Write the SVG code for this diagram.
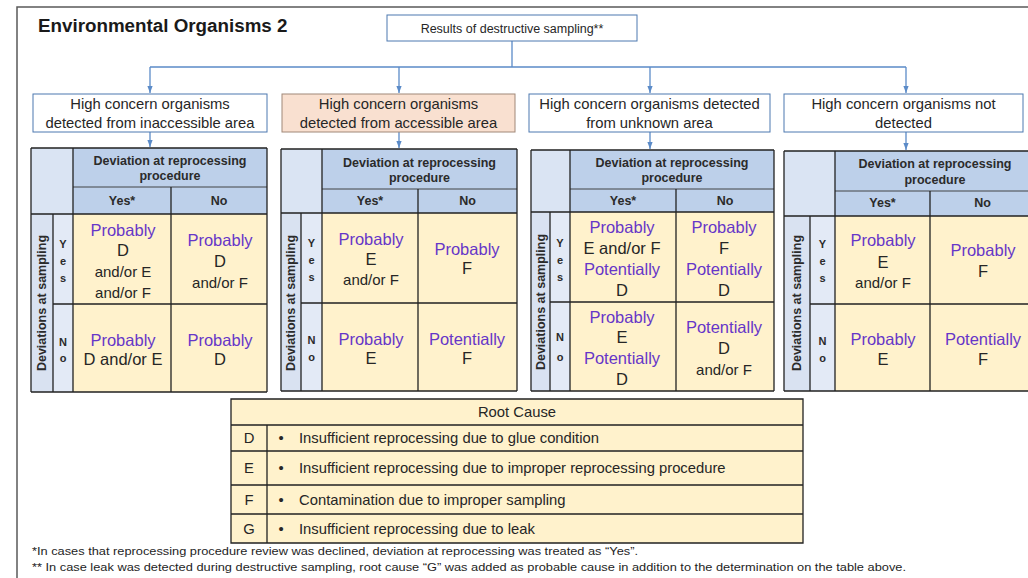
<svg xmlns="http://www.w3.org/2000/svg" width="1028" height="578" viewBox="0 0 1028 578">
<defs>
<marker id="ah" viewBox="0 0 8 6" refX="8" refY="3" markerWidth="7" markerHeight="6" orient="auto" markerUnits="userSpaceOnUse"><path d="M0,0 L8,3 L0,6 z" fill="#5B8BC8"/></marker>
<style>
text{font-family:"Liberation Sans",Arial,sans-serif;text-anchor:middle;dominant-baseline:central;fill:#262626}
.box{fill:#fff;stroke:#4C79B0;stroke-width:1}
.peach{fill:#F9E0D0;stroke:#A08878;stroke-width:1}
.hdr{fill:#BDD0EA}
.corner{fill:#DAE4F3}
.side{fill:#D9E2F1}
.yn{fill:#E3EAF6}
.cell{fill:#FFF2CC}
.ln{stroke:#222;stroke-width:1.3;fill:none}
.thin{stroke:#333;stroke-width:0.9;fill:none}
.p{fill:#6636C8;font-size:16.5px}
.k{font-size:16.5px}
.s{font-size:15px}
.hb{font-weight:bold;font-size:12.5px;fill:#2b2b2b}
.yb{font-weight:bold;font-size:11px;fill:#2b2b2b}
.l2{font-size:14.8px}
.rc{font-size:14.8px}
.rl{font-size:14.8px;text-anchor:start}
.fn{font-size:11.5px;text-anchor:start;fill:#1e1e1e}
.conn{stroke:#5B8BC8;stroke-width:1.3;fill:none}
</style>
</defs>
<rect x="0" y="0" width="1028" height="578" fill="#fff"/>
<path d="M17,578V7H1028" fill="none" stroke="#5a5a5a" stroke-width="1.5"/>
<text x="38" y="25" style="text-anchor:start;font-weight:bold;font-size:18.8px;fill:#1a1a1a">Environmental Organisms 2</text>

<g id="connectors">
<path class="conn" d="M512,41V67 M150,67H906"/>
<path class="conn" d="M150,67V93" marker-end="url(#ah)"/>
<path class="conn" d="M399,67V93" marker-end="url(#ah)"/>
<path class="conn" d="M650,67V93" marker-end="url(#ah)"/>
<path class="conn" d="M906,67V93" marker-end="url(#ah)"/>
<path class="conn" d="M150,132V147" marker-end="url(#ah)"/>
<path class="conn" d="M399,132V148" marker-end="url(#ah)"/>
<path class="conn" d="M650,132V149" marker-end="url(#ah)"/>
<path class="conn" d="M906,132V150" marker-end="url(#ah)"/>
</g>

<g id="root">
<rect class="box" x="387" y="15" width="250" height="26"/>
<text x="512" y="28.5" style="font-size:12.5px">Results of destructive sampling**</text>
</g>

<g id="box1">
<rect class="box" x="33" y="94" width="234" height="38"/>
<text class="l2" x="150" y="104">High concern organisms</text>
<text class="l2" x="150" y="123">detected from inaccessible area</text>
</g>
<g id="box2">
<rect class="peach" x="282" y="94" width="233" height="38"/>
<text class="l2" x="398.5" y="104">High concern organisms</text>
<text class="l2" x="398.5" y="123">detected from accessible area</text>
</g>
<g id="box3">
<rect class="box" x="529" y="94" width="241" height="38"/>
<text class="l2" x="649.5" y="104">High concern organisms detected</text>
<text class="l2" x="649.5" y="123">from unknown area</text>
</g>
<g id="box4">
<rect class="box" x="784" y="94" width="239" height="38"/>
<text class="l2" x="903.5" y="104">High concern organisms not</text>
<text class="l2" x="903.5" y="123">detected</text>
</g>

<g id="table1">
<rect class="corner" x="31" y="148" width="42" height="66"/>
<rect class="hdr" x="73" y="148" width="194" height="66"/>
<rect class="side" x="31" y="214" width="22" height="178"/>
<rect class="yn" x="53" y="214" width="20" height="178"/>
<rect class="cell" x="73" y="214" width="194" height="178"/>
<path class="thin" d="M73,187H267"/>
<path class="ln" d="M31,148H267 M31,214H267 M31,392H267 M31,148V392 M73,148V392 M267,148V392 M171,187V392 M53,214V392 M53,304H267"/>
<text class="hb" x="170" y="161">Deviation at reprocessing</text>
<text class="hb" x="170" y="176">procedure</text>
<text class="hb" x="122" y="201">Yes*</text>
<text class="hb" x="219" y="201">No</text>
<text class="hb" transform="translate(42,303) rotate(-90)">Deviations at sampling</text>
<text class="yb" x="63" y="244">Y</text><text class="yb" x="63" y="261">e</text><text class="yb" x="63" y="278">s</text>
<text class="yb" x="63" y="342">N</text><text class="yb" x="63" y="358">o</text>
<text class="p" x="123" y="230">Probably</text>
<text class="k" x="123" y="250">D</text>
<text class="s" x="123" y="271">and/or E</text>
<text class="s" x="123" y="292">and/or F</text>
<text class="p" x="220" y="240">Probably</text>
<text class="k" x="220" y="261">D</text>
<text class="s" x="220" y="282">and/or F</text>
<text class="p" x="123" y="340">Probably</text>
<text class="k" x="123" y="359">D and/or E</text>
<text class="p" x="220" y="340">Probably</text>
<text class="k" x="220" y="359">D</text>
</g>

<g id="table2">
<rect class="corner" x="281" y="149" width="41" height="64"/>
<rect class="hdr" x="322" y="149" width="195" height="64"/>
<rect class="side" x="281" y="213" width="20" height="178"/>
<rect class="yn" x="301" y="213" width="21" height="178"/>
<rect class="cell" x="322" y="213" width="195" height="178"/>
<path class="thin" d="M322,189H517"/>
<path class="ln" d="M281,149H517 M281,213H517 M281,391H517 M281,149V391 M322,149V391 M517,149V391 M418,189V391 M301,213V391 M301,303H517"/>
<text class="hb" x="419.5" y="163">Deviation at reprocessing</text>
<text class="hb" x="419.5" y="178">procedure</text>
<text class="hb" x="370" y="201">Yes*</text>
<text class="hb" x="467.5" y="201">No</text>
<text class="hb" transform="translate(291,303) rotate(-90)">Deviations at sampling</text>
<text class="yb" x="311.5" y="243">Y</text><text class="yb" x="311.5" y="260">e</text><text class="yb" x="311.5" y="277">s</text>
<text class="yb" x="311.5" y="340">N</text><text class="yb" x="311.5" y="357">o</text>
<text class="p" x="371" y="239">Probably</text>
<text class="k" x="371" y="259">E</text>
<text class="s" x="371" y="279">and/or F</text>
<text class="p" x="467" y="249">Probably</text>
<text class="k" x="467" y="268">F</text>
<text class="p" x="371" y="339">Probably</text>
<text class="k" x="371" y="358">E</text>
<text class="p" x="467" y="339">Potentially</text>
<text class="k" x="467" y="358">F</text>
</g>

<g id="table3">
<rect class="corner" x="531" y="150" width="39" height="62"/>
<rect class="hdr" x="570" y="150" width="204" height="62"/>
<rect class="side" x="531" y="212" width="19" height="179"/>
<rect class="yn" x="550" y="212" width="20" height="179"/>
<rect class="cell" x="570" y="212" width="204" height="179"/>
<path class="thin" d="M570,189H774"/>
<path class="ln" d="M531,150H774 M531,212H774 M531,391H774 M531,150V391 M570,150V391 M774,150V391 M676,189V391 M550,212V391 M550,302H774"/>
<text class="hb" x="672" y="163">Deviation at reprocessing</text>
<text class="hb" x="672" y="178">procedure</text>
<text class="hb" x="623" y="201">Yes*</text>
<text class="hb" x="725" y="201">No</text>
<text class="hb" transform="translate(540.5,302) rotate(-90)">Deviations at sampling</text>
<text class="yb" x="560" y="243">Y</text><text class="yb" x="560" y="260">e</text><text class="yb" x="560" y="277">s</text>
<text class="yb" x="560" y="337">N</text><text class="yb" x="560" y="357">o</text>
<text class="p" x="622" y="227">Probably</text>
<text class="k" x="622" y="248">E and/or F</text>
<text class="p" x="622" y="269">Potentially</text>
<text class="k" x="622" y="290">D</text>
<text class="p" x="724" y="227">Probably</text>
<text class="k" x="724" y="248">F</text>
<text class="p" x="724" y="269">Potentially</text>
<text class="k" x="724" y="290">D</text>
<text class="p" x="622" y="317">Probably</text>
<text class="k" x="622" y="337">E</text>
<text class="p" x="622" y="358">Potentially</text>
<text class="k" x="622" y="379">D</text>
<text class="p" x="724" y="327">Potentially</text>
<text class="k" x="724" y="348">D</text>
<text class="s" x="724" y="369">and/or F</text>
</g>

<g id="table4">
<rect class="corner" x="784" y="151" width="51" height="65"/>
<rect class="hdr" x="835" y="151" width="200" height="65"/>
<rect class="side" x="784" y="216" width="26" height="175"/>
<rect class="yn" x="810" y="216" width="25" height="175"/>
<rect class="cell" x="835" y="216" width="200" height="175"/>
<path class="thin" d="M835,191H1035"/>
<path class="ln" d="M784,151H1035 M784,216H1035 M784,391H1035 M784,151V391 M835,151V391 M930,191V391 M810,216V391 M810,304H1035"/>
<text class="hb" x="935" y="164">Deviation at reprocessing</text>
<text class="hb" x="935" y="180">procedure</text>
<text class="hb" x="882.5" y="203">Yes*</text>
<text class="hb" x="982.5" y="203">No</text>
<text class="hb" transform="translate(797,303) rotate(-90)">Deviations at sampling</text>
<text class="yb" x="822.5" y="244">Y</text><text class="yb" x="822.5" y="261">e</text><text class="yb" x="822.5" y="278">s</text>
<text class="yb" x="822.5" y="341">N</text><text class="yb" x="822.5" y="358">o</text>
<text class="p" x="883" y="240">Probably</text>
<text class="k" x="883" y="262">E</text>
<text class="s" x="883" y="282">and/or F</text>
<text class="p" x="983" y="250">Probably</text>
<text class="k" x="983" y="271">F</text>
<text class="p" x="883" y="339">Probably</text>
<text class="k" x="883" y="359">E</text>
<text class="p" x="983" y="339">Potentially</text>
<text class="k" x="983" y="359">F</text>
</g>

<g id="rootcause">
<rect class="cell" x="231" y="399" width="572" height="144"/>
<path class="ln" d="M231,399H803V543H231Z M231,425H803 M231,451H803 M231,485H803 M231,514H803 M267,425V543"/>
<text class="rc" x="517" y="412">Root Cause</text>
<text class="rc" x="249" y="438">D</text>
<text class="rc" x="249" y="468">E</text>
<text class="rc" x="249" y="500">F</text>
<text class="rc" x="249" y="529">G</text>
<text class="rc" x="281" y="438">•</text>
<text class="rc" x="281" y="468">•</text>
<text class="rc" x="281" y="500">•</text>
<text class="rc" x="281" y="529">•</text>
<text class="rl" x="299" y="438">Insufficient reprocessing due to glue condition</text>
<text class="rl" x="299" y="468">Insufficient reprocessing due to improper reprocessing procedure</text>
<text class="rl" x="299" y="500">Contamination due to improper sampling</text>
<text class="rl" x="299" y="529">Insufficient reprocessing due to leak</text>
</g>

<g id="footnotes">
<text class="fn" x="32" y="551" textLength="606" lengthAdjust="spacingAndGlyphs">*In cases that reprocessing procedure review was declined, deviation at reprocessing was treated as “Yes”.</text>
<text class="fn" x="32" y="567" textLength="874" lengthAdjust="spacingAndGlyphs">** In case leak was detected during destructive sampling, root cause “G” was added as probable cause in addition to the determination on the table above.</text>
</g>
</svg>
